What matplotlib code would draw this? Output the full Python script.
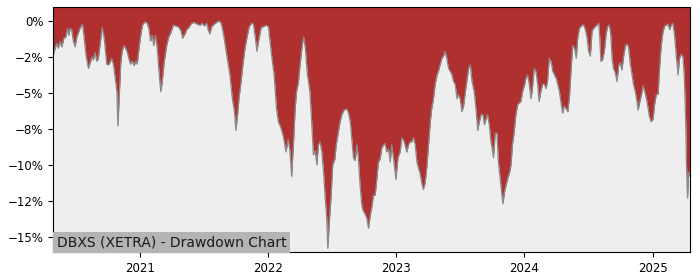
import pandas as pd
import matplotlib
matplotlib.use("Agg")
import matplotlib.pyplot as plt
from matplotlib.ticker import MultipleLocator, PercentFormatter
import matplotlib.dates as mdates

# drawdown in percent
dates = [
    "2020-04-28", "2020-05-01", "2020-05-04", "2020-05-09", "2020-05-13", "2020-05-18", "2020-05-23",
    "2020-05-29", "2020-06-04", "2020-06-08", "2020-06-12", "2020-06-16", "2020-06-20", "2020-06-25",
    "2020-06-30", "2020-07-05", "2020-07-14", "2020-07-21", "2020-07-26", "2020-07-31", "2020-08-07",
    "2020-08-12", "2020-08-17", "2020-08-21", "2020-08-26", "2020-08-31", "2020-09-04", "2020-09-09",
    "2020-09-15", "2020-09-21", "2020-09-28", "2020-10-03", "2020-10-07", "2020-10-12", "2020-10-17",
    "2020-10-22", "2020-10-27", "2020-10-30", "2020-11-03", "2020-11-07", "2020-11-11", "2020-11-16",
    "2020-11-21", "2020-11-26", "2020-12-01", "2020-12-05", "2020-12-10", "2020-12-15", "2020-12-20",
    "2020-12-24", "2020-12-29",
    "2021-01-03", "2021-01-08", "2021-01-15", "2021-01-21", "2021-01-26", "2021-01-31", "2021-02-05",
    "2021-02-09", "2021-02-14", "2021-02-19", "2021-02-24", "2021-03-01", "2021-03-05", "2021-03-11",
    "2021-03-18", "2021-03-24", "2021-03-30", "2021-04-06", "2021-04-12", "2021-04-20", "2021-04-28",
    "2021-05-02", "2021-05-09", "2021-05-14", "2021-05-20", "2021-05-28", "2021-06-05", "2021-06-11",
    "2021-06-21", "2021-06-27", "2021-07-03", "2021-07-10", "2021-07-14", "2021-07-19", "2021-07-24",
    "2021-08-01", "2021-08-07", "2021-08-14", "2021-08-20", "2021-08-26", "2021-09-02", "2021-09-08",
    "2021-09-14", "2021-09-21", "2021-09-27", "2021-10-01", "2021-10-06", "2021-10-10", "2021-10-16",
    "2021-10-21", "2021-10-27", "2021-11-02", "2021-11-08", "2021-11-15", "2021-11-20", "2021-11-25",
    "2021-11-30", "2021-12-04", "2021-12-12", "2021-12-18", "2021-12-26",
    "2022-01-02", "2022-01-04", "2022-01-11", "2022-01-18", "2022-01-25", "2022-01-30", "2022-02-06",
    "2022-02-13", "2022-02-21", "2022-02-27", "2022-03-04", "2022-03-09", "2022-03-14", "2022-03-19",
    "2022-03-23", "2022-03-28", "2022-04-02", "2022-04-08", "2022-04-12", "2022-04-17", "2022-04-23",
    "2022-04-30", "2022-05-05", "2022-05-10", "2022-05-15", "2022-05-20", "2022-05-24", "2022-05-29",
    "2022-06-03", "2022-06-08", "2022-06-12", "2022-06-17", "2022-06-20", "2022-06-24", "2022-06-29",
    "2022-07-04", "2022-07-10", "2022-07-14", "2022-07-20", "2022-07-25", "2022-07-30", "2022-08-05",
    "2022-08-13", "2022-08-18", "2022-08-23", "2022-08-27", "2022-09-01", "2022-09-06", "2022-09-11",
    "2022-09-15", "2022-09-20", "2022-09-25", "2022-09-29", "2022-10-04", "2022-10-09", "2022-10-14",
    "2022-10-19", "2022-10-23", "2022-10-28", "2022-11-02", "2022-11-07", "2022-11-11", "2022-11-16",
    "2022-11-21", "2022-11-26", "2022-11-30", "2022-12-05", "2022-12-10", "2022-12-15", "2022-12-19",
    "2022-12-24", "2022-12-31",
    "2023-01-06", "2023-01-12", "2023-01-17", "2023-01-22", "2023-01-26", "2023-01-31", "2023-02-05",
    "2023-02-09", "2023-02-14", "2023-02-19", "2023-02-24", "2023-03-01", "2023-03-05", "2023-03-10",
    "2023-03-15", "2023-03-19", "2023-03-24", "2023-03-29", "2023-04-03", "2023-04-08", "2023-04-12",
    "2023-04-17", "2023-04-22", "2023-04-27", "2023-05-01", "2023-05-06", "2023-05-11", "2023-05-16",
    "2023-05-20", "2023-05-25", "2023-05-30", "2023-06-04", "2023-06-09", "2023-06-13", "2023-06-18",
    "2023-06-23", "2023-06-27", "2023-07-02", "2023-07-07", "2023-07-12", "2023-07-16", "2023-07-21",
    "2023-07-26", "2023-07-31", "2023-08-05", "2023-08-11", "2023-08-17", "2023-08-21", "2023-08-26",
    "2023-08-31", "2023-09-05", "2023-09-09", "2023-09-14", "2023-09-18", "2023-09-23", "2023-09-28",
    "2023-10-01", "2023-10-05", "2023-10-10", "2023-10-15", "2023-10-19", "2023-10-24", "2023-10-29",
    "2023-11-01", "2023-11-06", "2023-11-10", "2023-11-15", "2023-11-20", "2023-11-24", "2023-11-28",
    "2023-12-03", "2023-12-08", "2023-12-13", "2023-12-17", "2023-12-22", "2023-12-27",
    "2024-01-02", "2024-01-05", "2024-01-10", "2024-01-15", "2024-01-20", "2024-01-24", "2024-01-29",
    "2024-02-03", "2024-02-08", "2024-02-12", "2024-02-17", "2024-02-22", "2024-02-27", "2024-03-03",
    "2024-03-07", "2024-03-12", "2024-03-17", "2024-03-22", "2024-03-27", "2024-04-01", "2024-04-05",
    "2024-04-10", "2024-04-14", "2024-04-19", "2024-04-24", "2024-04-29", "2024-05-04", "2024-05-09",
    "2024-05-14", "2024-05-18", "2024-05-23", "2024-05-28", "2024-06-01", "2024-06-06", "2024-06-10",
    "2024-06-14", "2024-06-18", "2024-06-23", "2024-06-28", "2024-07-02", "2024-07-07", "2024-07-12",
    "2024-07-17", "2024-07-21", "2024-07-26", "2024-07-31", "2024-08-03", "2024-08-06", "2024-08-11",
    "2024-08-16", "2024-08-21", "2024-08-25", "2024-08-30", "2024-09-03", "2024-09-07", "2024-09-11",
    "2024-09-16", "2024-09-21", "2024-09-26", "2024-09-30", "2024-10-05", "2024-10-10", "2024-10-15",
    "2024-10-20", "2024-10-24", "2024-10-29", "2024-11-03", "2024-11-07", "2024-11-12", "2024-11-17",
    "2024-11-20", "2024-11-25", "2024-11-30", "2024-12-04", "2024-12-09", "2024-12-14", "2024-12-19",
    "2024-12-22", "2024-12-27",
    "2025-01-02", "2025-01-06", "2025-01-11", "2025-01-16", "2025-01-21", "2025-01-25", "2025-01-30",
    "2025-02-04", "2025-02-09", "2025-02-13", "2025-02-18", "2025-02-23", "2025-02-27", "2025-03-04",
    "2025-03-09", "2025-03-14", "2025-03-18", "2025-03-23", "2025-03-28", "2025-04-01", "2025-04-05",
    "2025-04-07", "2025-04-10", "2025-04-13", "2025-04-17",
]

drawdown = [
    -2.3, -2.2, -1.9, -1.55, -1.9, -1.4, -1.8,
    -1.2, -1.1, -0.5, -1.0, -0.5, -0.6, -1.4,
    -1.8, -1.1, -0.5, -0.23, -1.2, -2.4, -3.3,
    -2.9, -2.5, -2.7, -2.2, -2.8, -2.6, -1.7,
    -0.46, -1.2, -3.0, -3.05, -2.9, -2.6, -3.0,
    -3.9, -4.9, -7.3, -5.1, -3.0, -2.1, -1.7,
    -1.9, -2.2, -2.7, -3.0, -2.8, -3.1, -2.8,
    -3.0, -1.9,
    -1.0, -0.28, -0.05, -0.15, -0.5, -1.4, -1.0,
    -1.7, -1.0, -1.9, -3.5, -4.9, -4.3, -2.8,
    -1.7, -1.1, -0.8, -0.28, -0.35, -0.4, -0.7,
    -1.2, -0.9, -0.6, -0.45, -0.16, -0.1, -0.2,
    -0.3, -0.15, -0.35, -0.15, -0.6, -0.9, -0.4,
    -0.2, -0.1, 0.0, -0.15, -0.8, -1.9, -2.8,
    -3.75, -5.4, -6.3, -7.6, -6.5, -5.35, -4.2,
    -3.05, -1.9, -1.1, -0.4, -0.15, -0.2, -1.1,
    -2.1, -1.5, -0.45, -0.4, -0.3,
    -0.4, -0.9, -2.4, -3.75, -6.1, -7.0, -7.4,
    -8.0, -9.1, -8.2, -9.0, -10.8, -8.6, -6.1,
    -4.9, -4.3, -3.05, -1.7, -1.1, -1.9, -3.75,
    -4.9, -7.0, -9.3, -9.0, -10.0, -8.6, -8.4,
    -9.1, -10.5, -12.1, -13.7, -15.8, -14.1, -12.3,
    -10.0, -9.6, -8.6, -7.7, -7.0, -6.5, -6.2,
    -6.1, -6.4, -7.0, -8.1, -9.5, -9.7, -8.6,
    -9.5, -11.4, -12.8, -13.2, -13.4, -13.7, -14.4,
    -13.5, -13.0, -12.1, -12.1, -10.9, -9.8, -9.6,
    -8.8, -8.6, -8.5, -9.1, -8.9, -9.8, -8.6,
    -9.5, -11.0,
    -9.5, -9.1, -8.1, -8.3, -8.6, -9.1, -8.6,
    -8.4, -8.4, -8.1, -8.6, -9.8, -10.2, -10.6,
    -11.3, -11.7, -11.3, -10.2, -8.6, -7.0, -6.1,
    -5.4, -4.4, -3.75, -3.5, -3.05, -2.6, -2.4,
    -2.1, -2.6, -3.3, -3.5, -3.75, -4.2, -4.4,
    -5.4, -5.1, -5.4, -6.3, -5.9, -5.1, -4.2,
    -3.3, -3.05, -4.2, -4.9, -6.3, -7.6, -7.0,
    -6.5, -6.5, -7.2, -6.8, -6.5, -7.2, -8.4,
    -8.8, -9.5, -7.8, -7.8, -9.8, -10.9, -12.1,
    -12.7, -11.8, -11.4, -10.9, -10.5, -10.0, -8.6,
    -7.7, -6.5, -5.8, -5.7, -5.6, -4.9,
    -4.4, -4.0, -3.75, -4.4, -5.4, -4.7, -3.3,
    -3.5, -4.4, -5.6, -4.9, -4.4, -4.4, -4.7,
    -4.2, -2.6, -2.8, -3.5, -3.75, -4.0, -4.4,
    -4.9, -5.6, -6.4, -5.9, -6.1, -6.3, -5.1,
    -3.05, -1.7, -1.9, -2.6, -1.2, -0.5, -0.4,
    -0.28, -0.28, -0.6, -1.2, -2.1, -2.45, -0.7,
    -0.5, -0.4, -0.28, -0.15, -1.2, -2.8, -2.7,
    -2.1, -0.9, -0.4, -0.28, -0.9, -2.6, -3.3,
    -3.6, -4.2, -3.05, -2.9, -3.4, -2.45, -1.7,
    -1.6, -1.85, -3.0, -3.75, -4.4, -4.9, -5.6,
    -6.2, -5.6, -5.1, -4.5, -4.9, -5.4, -6.1,
    -6.6, -7.0,
    -6.8, -5.8, -5.1, -5.1, -3.05, -1.7, -0.75,
    -0.35, -0.28, -0.2, -0.6, -0.28, -0.15, -1.0,
    -2.45, -3.75, -2.6, -2.3, -2.5, -4.0, -7.2,
    -10.0, -12.3, -10.5, -10.8,
]

yticks_step = 2.5
y_top = 0.97
y_bottom = -16.05
title = "DBXS (XETRA) - Drawdown Chart"

x = pd.to_datetime(dates)

fig = plt.figure(figsize=(7, 2.8), dpi=100)
ax = fig.add_axes([0.0757, 0.1, 0.91, 0.875])
ax.set_facecolor("#eeeeee")

ax.fill_between(x, drawdown, y_top, color="#b03030", lw=0)
ax.plot(x, drawdown, color="#8a8a8a", lw=0.9)

ax.set_xlim(x[0], x[-1])
ax.set_ylim(y_bottom, y_top)
ax.yaxis.set_major_locator(MultipleLocator(yticks_step))
ax.yaxis.set_major_formatter(PercentFormatter(xmax=100, decimals=0))
ax.xaxis.set_major_locator(mdates.YearLocator())
ax.xaxis.set_major_formatter(mdates.DateFormatter("%Y"))
ax.tick_params(labelsize=8.5)

ax.text(0.006, 0.012, title, transform=ax.transAxes, ha="left", va="bottom",
        fontsize=10, color="#1a1a1a",
        bbox=dict(facecolor="#b4b4b4", edgecolor="none", pad=2.5))

fig.savefig("out.png", dpi=100)
